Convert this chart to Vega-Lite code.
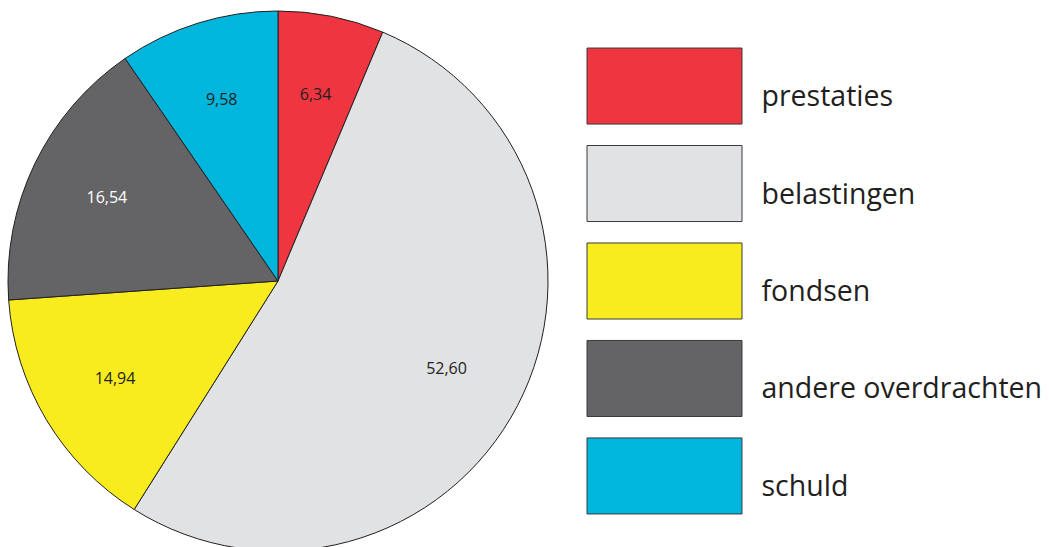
{
  "$schema": "https://vega.github.io/schema/vega-lite/v6.json",
  "padding": {"left": 6, "top": 9, "right": 0, "bottom": 0},
  "background": "white",
  "config": {"view": {"stroke": null}, "font": "Open Sans"},
  "data": {"values": [
    {"cat": "prestaties", "value": 6.34, "label": "6,34", "order": 1},
    {"cat": "belastingen", "value": 52.60, "label": "52,60", "order": 2},
    {"cat": "fondsen", "value": 14.94, "label": "14,94", "order": 3},
    {"cat": "andere overdrachten", "value": 16.54, "label": "16,54", "order": 4},
    {"cat": "schuld", "value": 9.58, "label": "9,58", "order": 5}
  ]},
  "spacing": 36,
  "hconcat": [
    {
      "width": 540,
      "height": 540,
      "encoding": {
        "theta": {"field": "value", "type": "quantitative", "stack": true},
        "order": {"field": "order", "type": "quantitative"}
      },
      "layer": [
        {
          "mark": {"type": "arc", "outerRadius": 270, "stroke": "#231F20", "strokeWidth": 1},
          "encoding": {
            "color": {
              "field": "cat", "type": "nominal", "legend": null,
              "scale": {
                "domain": ["prestaties", "belastingen", "fondsen", "andere overdrachten", "schuld"],
                "range": ["#EF3640", "#E1E2E4", "#F8EC1F", "#646466", "#00B6DD"]
              }
            }
          }
        },
        {
          "mark": {"type": "text", "radius": 190, "fontSize": 16, "font": "Open Sans"},
          "encoding": {
            "text": {"field": "label"},
            "color": {
              "condition": {"test": "datum.cat === 'andere overdrachten'", "value": "#FFFFFF"},
              "value": "#231F20"
            }
          }
        }
      ]
    },
    {
      "width": 155,
      "height": 540,
      "mark": {"type": "bar", "stroke": "#3A3A3C", "strokeWidth": 1},
      "encoding": {
        "y": {
          "field": "cat", "type": "nominal", "title": null,
          "sort": ["prestaties", "belastingen", "fondsen", "andere overdrachten", "schuld"],
          "scale": {"paddingInner": 0.22, "paddingOuter": 0.38},
          "axis": {
            "orient": "right", "domain": false, "ticks": false, "labelPadding": 19,
            "labelOffset": 11,
            "labelFontSize": 28.5, "labelFont": "Open Sans", "labelColor": "#231F20",
            "labelLimit": 400
          }
        },
        "color": {
          "field": "cat", "type": "nominal", "legend": null,
          "scale": {
            "domain": ["prestaties", "belastingen", "fondsen", "andere overdrachten", "schuld"],
            "range": ["#EF3640", "#E1E2E4", "#F8EC1F", "#646466", "#00B6DD"]
          }
        }
      }
    }
  ]
}
